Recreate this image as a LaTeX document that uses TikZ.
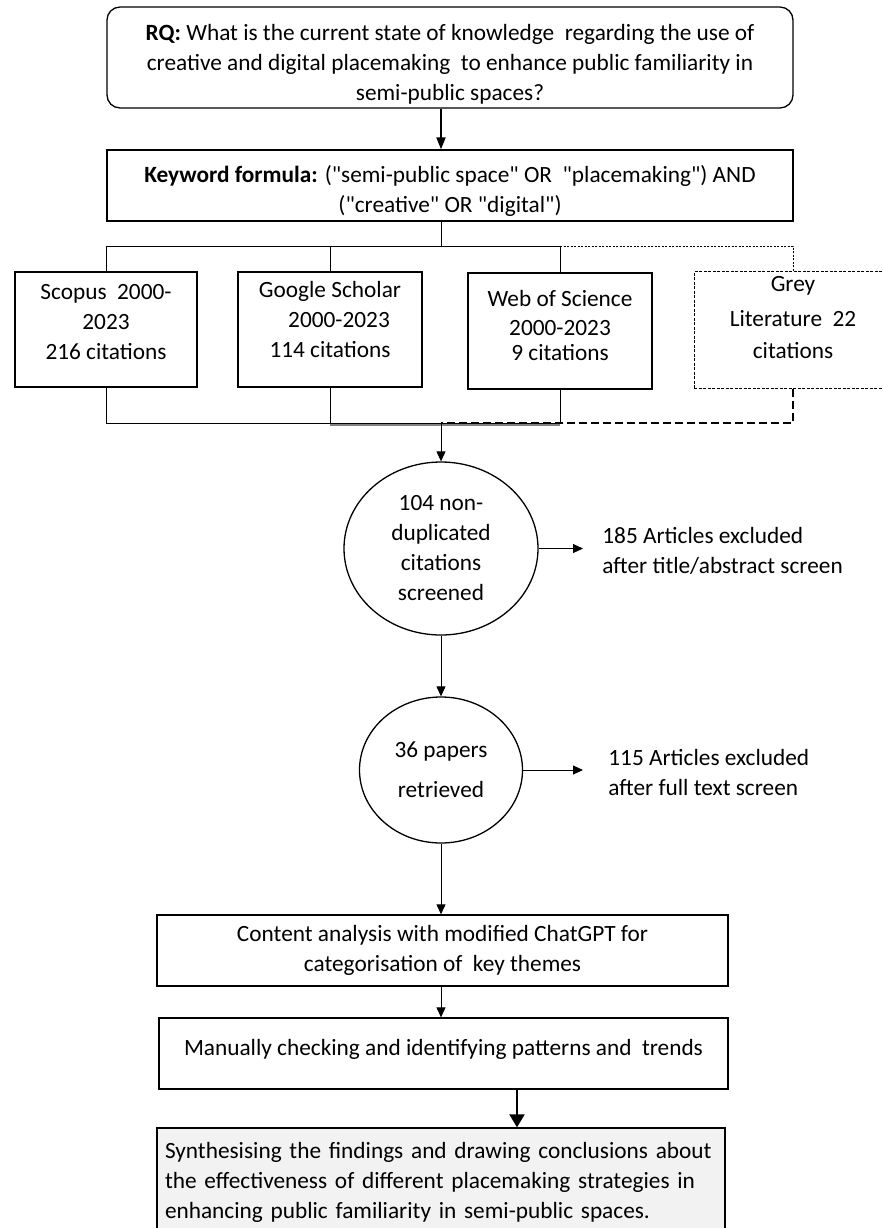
\documentclass[tikz,border=0pt]{standalone}
\usepackage{fontspec}
\setmainfont{Carlito}[Ligatures=TeXOff]
\usetikzlibrary{arrows.meta}
\usetikzlibrary{shapes.geometric}

\definecolor{synthfill}{HTML}{F2F2F2}

\begin{document}
\begin{tikzpicture}[x=0.5pt,y=-0.5pt,
    font=\fontsize{11.65}{15}\selectfont,
    box/.style={draw,line width=0.65pt,align=center,inner sep=2pt},
    dbbox/.style={box,minimum width=92pt,minimum height=57.5pt},
    round/.style={draw,ellipse,line width=0.65pt,align=center,inner sep=0pt},
    link/.style={line width=0.5pt},
    arr/.style={link,-{Triangle[length=5pt,width=4.5pt]}},
    bigarr/.style={line width=1pt,-{Triangle[length=6.5pt,width=7.5pt]}}]

    \useasboundingbox (0,0) rectangle (883,1228);
    \clip (0,0) rectangle (883,1228);

    % question and search string
    \node[box,rounded corners=6.5pt,minimum width=343pt,minimum height=49.5pt] (rq) at (450,57.5)
        {\rule{0pt}{14.6pt}\textbf{RQ:} What is the current state of knowledge~ regarding the use of\\
         creative and digital placemaking~ to enhance public familiarity in\\
         semi-public spaces?};
    \node[box,minimum width=343pt,minimum height=35.5pt] (kw) at (450,185.5)
        {\rule{0pt}{14pt}\textbf{Keyword formula:} ("semi-public space" OR~ "placemaking") AND\\
         ("creative" OR "digital")};

    % databases
    \node[dbbox,minimum width=91pt] (scopus) at (106,329.5)
        {Scopus~ 2000-\\2023\\216 citations\rule[-8pt]{0pt}{8pt}};
    \node[dbbox] (scholar) at (330,329.5)
        {Google Scholar\\\hspace*{9pt}2000-2023\\114 citations\rule[-10pt]{0pt}{10pt}};
    \node[dbbox,minimum height=58pt] (wos) at (560,331)
        {Web of Science\\[-0.5pt]2000-2023\\[-2.5pt]9 citations\rule[-6pt]{0pt}{6pt}};
    \node[dbbox,minimum width=99pt,line width=0.5pt,dash pattern=on 1.5pt off 0.75pt] (grey) at (793,330)
        {Grey\\[2.5pt]Literature~ 22\\[1pt]citations\rule[-13pt]{0pt}{13pt}};

    % screening
    \node[round,minimum width=97pt,minimum height=86.5pt] (screen) at (441,548.5)
        {104 non-\\duplicated\\citations\\screened};
    \node[anchor=west,align=left,inner xsep=9.5pt,inner ysep=0pt] (drop1) at (583,551)
        {185 Articles excluded\\after title/abstract screen};
    \node[round,minimum width=81.5pt,minimum height=73pt] (papers) at (441,770)
        {36 papers\\[5pt]retrieved};
    \node[anchor=west,align=left,inner xsep=12.5pt,inner ysep=0pt] (drop2) at (583,772)
        {115 Articles excluded\\after full text screen};

    % analysis
    \node[box,minimum width=285.5pt,minimum height=35.5pt] (chatgpt) at (442.5,950.5)
        {Content analysis with modified ChatGPT for\\categorisation of~ key themes};
    \node[box,minimum width=284.5pt,minimum height=35.5pt,text depth=6.5pt] (manual) at (443.5,1053.5)
        {Manually checking and identifying patterns and~ trends};
    \node[box,fill=synthfill,minimum height=54pt,text width=276pt,inner xsep=4pt,align=left] (synth) at (441,1182)
        {Synthesising the findings and drawing conclusions about\\
         the effectiveness of different placemaking strategies in\\
         enhancing public familiarity in semi-public spaces.};

    % connectors
    \coordinate (split) at (441,246);
    \coordinate (join) at (441,423);
    \draw[line width=1pt,-{Triangle[length=6pt,width=4.5pt]}] (rq.south -| screen) -- (kw.north -| screen);
    \draw[link] (kw.south -| screen) -- (split);
    \draw[link] (scopus.north) -- (scopus.north |- split) -- (wos.north |- split) -- (wos.north);
    \draw[link] (scholar.north) -- (scholar.north |- split);
    \draw[link,dash pattern=on 1pt off 0.75pt] (wos.north |- split) -| (grey.north);
    \draw[link] (scopus.south) -- (scopus.south |- join) -- (wos.south |- join) -- (wos.south);
    \draw[link] (scholar.south) -- (scholar.south |- join);
    \draw[gray,line width=1pt] ([yshift=-0.8pt]scholar.south |- join) -- ([yshift=-0.8pt]wos.south |- join);
    \draw[line width=0.9pt,dash pattern=on 4pt off 2pt] (grey.south) |- (join);
    \draw[arr] (join) -- (screen.north);
    \draw[arr] (screen.east) -- (screen.east -| drop1.west);
    \draw[arr] (screen.south) -- (papers.north);
    \draw[arr] (papers.east) -- (papers.east -| drop2.west);
    \draw[arr] (papers.south) -- (papers.south |- chatgpt.north);
    \draw[arr] (chatgpt.south -| papers) -- (manual.north -| papers);
    \draw[bigarr] ([xshift=36.75pt]manual.south) -- ([xshift=36.75pt]manual.south |- synth.north);
\end{tikzpicture}
\end{document}
